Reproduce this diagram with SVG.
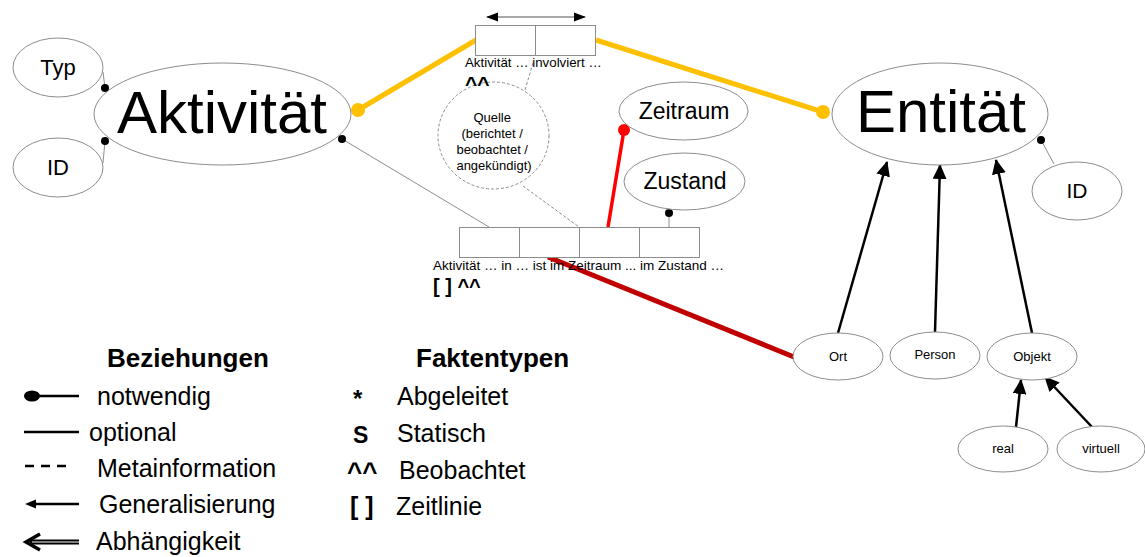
<svg xmlns="http://www.w3.org/2000/svg" width="1145" height="557" viewBox="0 0 1145 557">
  <style>
    text { font-family: "Liberation Sans", Arial, sans-serif; fill: #000; }
    .node { fill: #fff; stroke: #8c8c8c; stroke-width: 1; }
    .meta { fill: #fff; stroke: #8c8c8c; stroke-width: 1; stroke-dasharray: 3 2; }
    .cell { fill: #fff; stroke: #8c8c8c; stroke-width: 1; }
    .thin { stroke: #8c8c8c; stroke-width: 1; fill: none; }
    .dash { stroke: #8c8c8c; stroke-width: 1; fill: none; stroke-dasharray: 3 2; }
    .gen { stroke: #000; stroke-width: 2.5; fill: none; marker-end: url(#tri); }
    .yel { stroke: #FFC000; stroke-width: 5; fill: none; }
    .c { text-anchor: middle; }
    .b { font-weight: bold; }
    .leg { font-size: 25px; }
  </style>
  <defs>
    <marker id="tri" markerUnits="userSpaceOnUse" markerWidth="16" markerHeight="14" refX="14" refY="7" orient="auto">
      <path d="M0,0 L15,7 L0,14 Z" fill="#000"/>
    </marker>
    <marker id="sm" markerUnits="userSpaceOnUse" markerWidth="12" markerHeight="10" refX="11" refY="5" orient="auto-start-reverse">
      <path d="M0,0.5 L12,5 L0,9.5 Z" fill="#000"/>
    </marker>
  </defs>

  <!-- connectors -->
  <g id="connectors">
    <!-- attributes of Aktivität -->
    <line class="thin" x1="103" y1="72" x2="105" y2="88"/>
    <circle cx="105" cy="88" r="4" fill="#000"/>
    <line class="thin" x1="103" y1="163" x2="105" y2="141"/>
    <circle cx="105" cy="141" r="4" fill="#000"/>
    <!-- Aktivität to the time-line fact -->
    <line class="thin" x1="342" y1="139" x2="489" y2="227"/>
    <circle cx="342" cy="139" r="4" fill="#000"/>
    <!-- involvement fact (yellow) -->
    <line class="yel" x1="358" y1="110" x2="476" y2="40"/>
    <circle cx="358" cy="110" r="7" fill="#FFC000"/>
    <line class="yel" x1="596" y1="40" x2="823" y2="112"/>
    <circle cx="823" cy="112" r="7" fill="#FFC000"/>
    <!-- double arrow over the involvement fact -->
    <line x1="487" y1="17" x2="585" y2="17" stroke="#555" stroke-width="1" marker-start="url(#sm)" marker-end="url(#sm)"/>
    <!-- source metadata -->
    <line class="dash" x1="533" y1="63" x2="522" y2="100"/>
    <line class="dash" x1="523" y1="186" x2="579" y2="227"/>
    <!-- Zeitraum -->
    <line x1="624" y1="130" x2="608" y2="227" stroke="#FF0000" stroke-width="3.5"/>
    <circle cx="624" cy="130" r="6" fill="#FF0000"/>
    <!-- Zustand -->
    <line class="thin" x1="669" y1="213" x2="669" y2="227"/>
    <circle cx="669" cy="213" r="4" fill="#000"/>
    <!-- location (dark red) -->
    <line x1="548" y1="257" x2="794" y2="357" stroke="#C00000" stroke-width="5"/>
    <!-- Entität ID -->
    <line class="thin" x1="1041" y1="140" x2="1054" y2="164"/>
    <circle cx="1041" cy="140" r="4" fill="#000"/>
    <!-- generalisations -->
    <line class="gen" x1="838" y1="333" x2="887" y2="162"/>
    <line class="gen" x1="935" y1="332" x2="940" y2="165"/>
    <line class="gen" x1="1032" y1="333" x2="996" y2="160"/>
    <line class="gen" x1="1016" y1="427" x2="1021" y2="380"/>
    <line class="gen" x1="1092" y1="427" x2="1045" y2="377"/>
  </g>

  <!-- nodes -->
  <g id="typ">
    <ellipse class="node" cx="58" cy="67.5" rx="45" ry="29.5"/>
    <text class="c" x="58" y="75" font-size="22">Typ</text>
  </g>
  <g id="aktivitaet-id">
    <ellipse class="node" cx="58" cy="167.5" rx="45" ry="29.5"/>
    <text class="c" x="58" y="175" font-size="22">ID</text>
  </g>
  <g id="aktivitaet">
    <ellipse class="node" cx="222.5" cy="114" rx="128.5" ry="51"/>
    <text class="c" x="222" y="133" font-size="60">Aktivität</text>
  </g>
  <g id="quelle">
    <ellipse class="meta" cx="493.5" cy="135.5" rx="55.5" ry="53.5"/>
    <text class="c" font-size="13">
      <tspan x="494" y="122">Quelle</tspan>
      <tspan x="494" y="138">(berichtet /</tspan>
      <tspan x="494" y="154">beobachtet /</tspan>
      <tspan x="494" y="170">angekündigt)</tspan>
    </text>
  </g>
  <g id="involviert">
    <rect class="cell" x="475.5" y="25.5" width="60" height="30"/>
    <rect class="cell" x="535.5" y="25.5" width="60" height="30"/>
    <text x="465" y="67" font-size="13.3">Aktivität … involviert …</text>
    <text class="b" x="465" y="91" font-size="21">^^</text>
  </g>
  <g id="zeitraum">
    <ellipse class="node" cx="683.5" cy="111" rx="64.5" ry="29"/>
    <text class="c" x="684" y="119" font-size="23">Zeitraum</text>
  </g>
  <g id="zustand">
    <ellipse class="node" cx="684.5" cy="181.5" rx="60.5" ry="28.5"/>
    <text class="c" x="685" y="189" font-size="23">Zustand</text>
  </g>
  <g id="aktivitaet-in">
    <rect class="cell" x="459.5" y="227.5" width="60" height="30"/>
    <rect class="cell" x="519.5" y="227.5" width="60" height="30"/>
    <rect class="cell" x="579.5" y="227.5" width="60" height="30"/>
    <rect class="cell" x="639.5" y="227.5" width="60" height="30"/>
    <text x="433" y="270" font-size="13.5">Aktivität … in … ist im Zeitraum ... im Zustand …</text>
    <text class="b" x="433" y="293" font-size="20">[ ] ^^</text>
  </g>
  <g id="entitaet">
    <ellipse class="node" cx="940" cy="114" rx="108" ry="51"/>
    <text class="c" x="941" y="132" font-size="60">Entität</text>
  </g>
  <g id="entitaet-id">
    <ellipse class="node" cx="1077" cy="191" rx="45" ry="29"/>
    <text class="c" x="1077" y="198" font-size="21">ID</text>
  </g>
  <g id="ort">
    <ellipse class="node" cx="838" cy="356.5" rx="45" ry="23.5"/>
    <text class="c" x="838" y="361" font-size="13">Ort</text>
  </g>
  <g id="person">
    <ellipse class="node" cx="935" cy="355.5" rx="45" ry="23.5"/>
    <text class="c" x="935" y="359" font-size="13">Person</text>
  </g>
  <g id="objekt">
    <ellipse class="node" cx="1032" cy="356.5" rx="45" ry="23.5"/>
    <text class="c" x="1032" y="361" font-size="13">Objekt</text>
  </g>
  <g id="real">
    <ellipse class="node" cx="1003" cy="449" rx="45" ry="23"/>
    <text class="c" x="1003" y="453" font-size="13">real</text>
  </g>
  <g id="virtuell">
    <ellipse class="node" cx="1101" cy="449" rx="44" ry="23"/>
    <text class="c" x="1101" y="453" font-size="13">virtuell</text>
  </g>

  <!-- legend: relations -->
  <g id="legende-beziehungen">
    <text class="b" x="107" y="367" font-size="26">Beziehungen</text>
    <ellipse cx="32" cy="396" rx="8" ry="5.5" fill="#000"/>
    <line x1="32" y1="396" x2="79" y2="396" stroke="#000" stroke-width="2.5"/>
    <text class="leg" x="97" y="405">notwendig</text>
    <line x1="24" y1="432" x2="79" y2="432" stroke="#000" stroke-width="2.5"/>
    <text class="leg" x="89" y="441">optional</text>
    <line x1="25" y1="466" x2="71" y2="466" stroke="#000" stroke-width="2.5" stroke-dasharray="9 7"/>
    <text class="leg" x="97" y="477">Metainformation</text>
    <line x1="34" y1="504" x2="79" y2="504" stroke="#000" stroke-width="2.5"/>
    <path d="M25,504 L36,499.5 L36,508.5 Z" fill="#000"/>
    <text class="leg" x="99" y="513">Generalisierung</text>
    <line x1="30" y1="542" x2="79" y2="542" stroke="#000" stroke-width="5"/>
    <line x1="32" y1="542" x2="79" y2="542" stroke="#aaa" stroke-width="1.5"/>
    <path d="M40,534 L26,542 L40,550" fill="none" stroke="#000" stroke-width="3.5" stroke-linejoin="miter"/>
    <text class="leg" x="96" y="550">Abhängigkeit</text>
  </g>

  <!-- legend: fact types -->
  <g id="legende-faktentypen">
    <text class="b" x="416" y="367" font-size="26">Faktentypen</text>
    <text class="b" x="353" y="407" font-size="24">*</text>
    <text class="leg" x="397" y="405">Abgeleitet</text>
    <text class="b" x="353" y="443" font-size="23">S</text>
    <text class="leg" x="397" y="442">Statisch</text>
    <text class="b" x="347" y="481" font-size="26">^^</text>
    <text class="leg" x="399" y="479">Beobachtet</text>
    <text class="b" x="350" y="515" font-size="25">[ ]</text>
    <text class="leg" x="396" y="515">Zeitlinie</text>
  </g>
</svg>
